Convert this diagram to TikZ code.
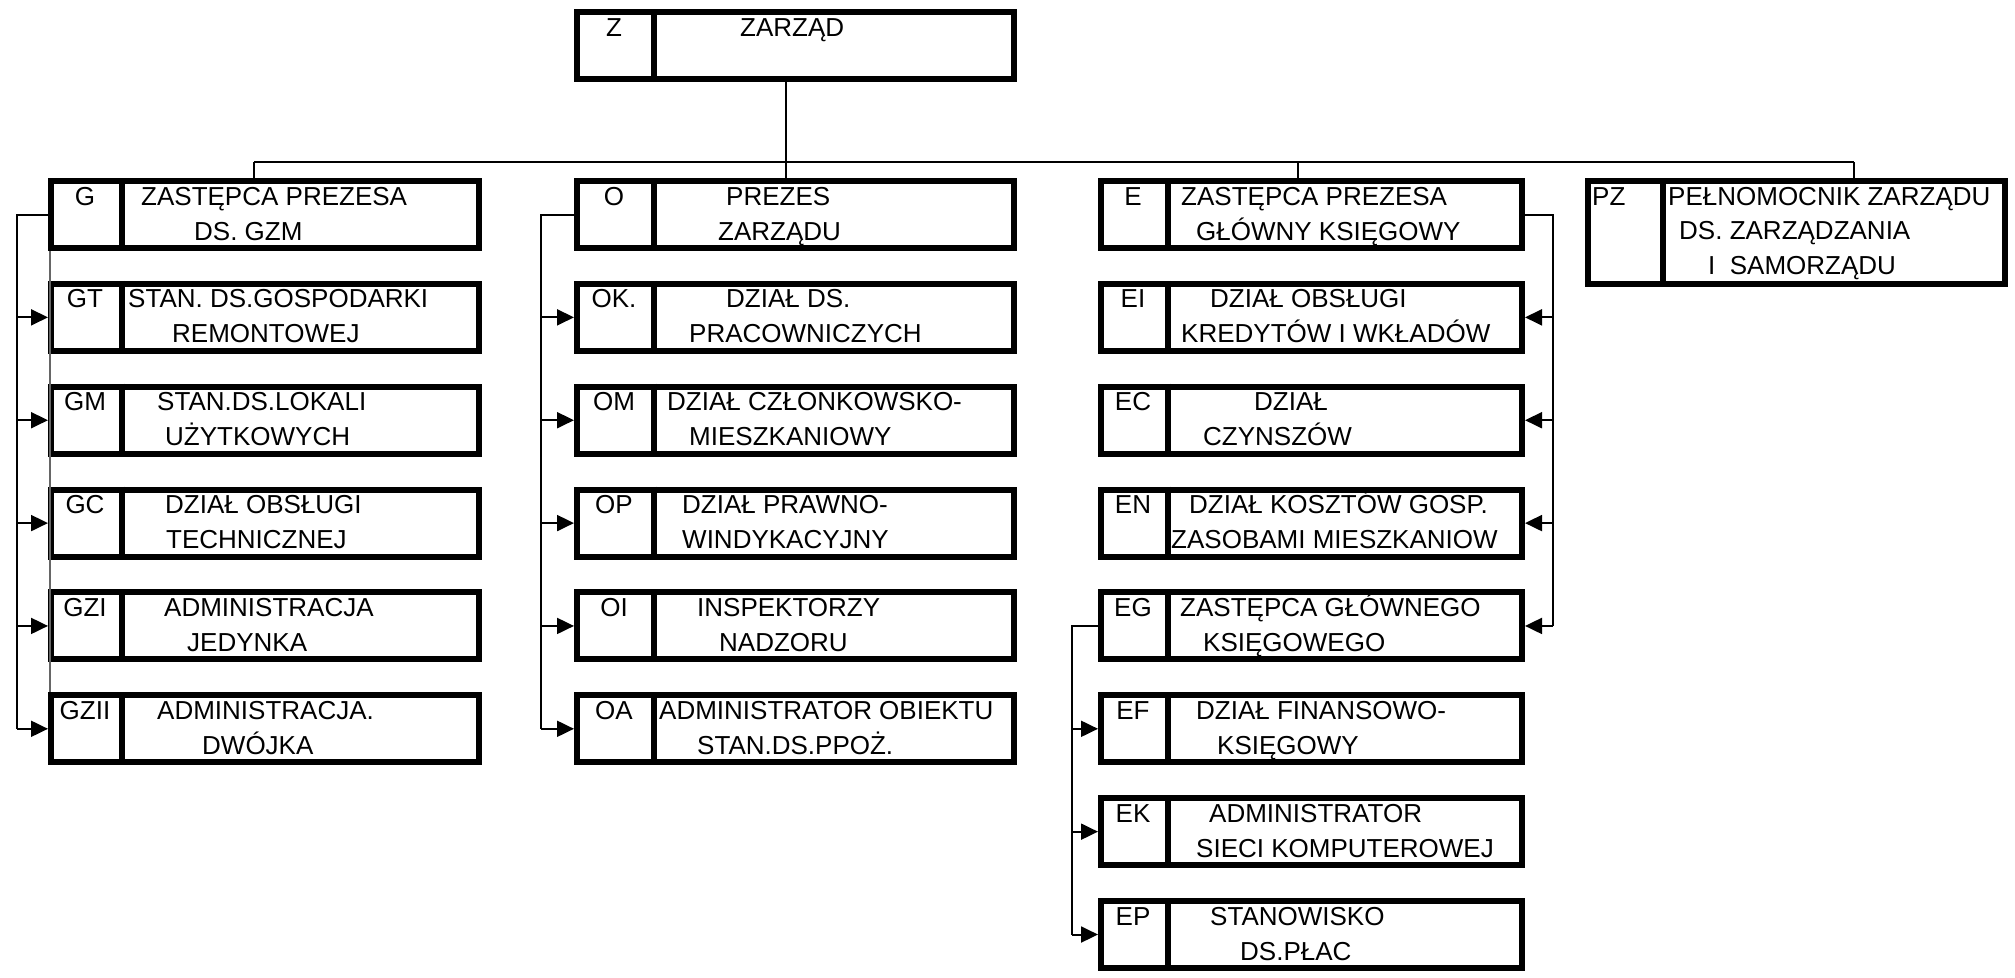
\documentclass[tikz,border=0pt]{standalone}
\usepackage{fontspec}
\setmainfont{Liberation Sans}
\usepackage{tikz}
\usetikzlibrary{shapes,arrows.meta,positioning,calc}
\tikzset{
    unitbox/.style={rectangle, draw=black, line width=6pt, minimum height=67pt, inner sep=0pt, anchor=north west},
    unitline/.style={line width=6pt, black},
    unittext/.style={font=\fontsize{26}{34}\selectfont, inner sep=0pt, anchor=base west},
    unitcode/.style={font=\fontsize{26}{34}\selectfont, inner sep=0pt, anchor=base},
    link/.style={line width=2pt, black},
    busline/.style={line width=2.5pt, black},
    feed/.style={line width=2pt, black, -{Triangle[length=17pt,width=16pt]}},
    edgeline/.style={line width=1.5pt, black!60},
}

\begin{document}
\begin{tikzpicture}[x=1pt, y=-1pt]
    \useasboundingbox (0,0) rectangle (2015,977);

    % zarzad
    \node[unitbox, minimum width=437pt] (z) at (574,9) {};
    \draw[unitline] ([xshift=80pt]z.north west) -- ([xshift=80pt]z.south west);
    \node[unitcode] (z-code) at (614,36) {Z};
    \node[unittext] (z-a) at (740,36) {ZARZĄD};

    % pion G
    \foreach \n/\c/\xa/\la/\xb/\lb [count=\i from 0] in {
        g/G/141/{ZASTĘPCA PREZESA}/194/{DS. GZM},
        gt/GT/128/{STAN. DS.GOSPODARKI}/172/{REMONTOWEJ},
        gm/GM/157/{STAN.DS.LOKALI}/165/{UŻYTKOWYCH},
        gc/GC/165/{DZIAŁ OBSŁUGI}/166/{TECHNICZNEJ},
        gzi/GZI/164/{ADMINISTRACJA}/187/{JEDYNKA},
        gzii/GZII/157/{ADMINISTRACJA.}/202/{DWÓJKA}}{
        \pgfmathsetmacro\rowtop{178+102.86*\i}
        \node[unitbox, minimum width=428pt] (\n) at (48,\rowtop) {};
        \draw[unitline] ([xshift=74pt]\n.north west) -- ([xshift=74pt]\n.south west);
        \node[unitcode] (\n-code) at (85,\rowtop+27) {\c};
        \node[unittext] (\n-a) at (\xa,\rowtop+27) {\la};
        \node[unittext] (\n-b) at (\xb,\rowtop+62) {\lb};
    }

    % pion O
    \foreach \n/\c/\xa/\la/\xb/\lb [count=\i from 0] in {
        o/O/726/{PREZES}/718/{ZARZĄDU},
        ok/OK./726/{DZIAŁ DS.}/689/{PRACOWNICZYCH},
        om/OM/667/{DZIAŁ CZŁONKOWSKO-}/689/{MIESZKANIOWY},
        op/OP/682/{DZIAŁ PRAWNO-}/682/{WINDYKACYJNY},
        oi/OI/697/{INSPEKTORZY}/719/{NADZORU},
        oa/OA/659/{ADMINISTRATOR OBIEKTU}/697/{STAN.DS.PPOŻ.}}{
        \pgfmathsetmacro\rowtop{178+102.86*\i}
        \node[unitbox, minimum width=437pt] (\n) at (574,\rowtop) {};
        \draw[unitline] ([xshift=80pt]\n.north west) -- ([xshift=80pt]\n.south west);
        \node[unitcode] (\n-code) at (614,\rowtop+27) {\c};
        \node[unittext] (\n-a) at (\xa,\rowtop+27) {\la};
        \node[unittext] (\n-b) at (\xb,\rowtop+62) {\lb};
    }

    % pion E
    \foreach \n/\c/\xa/\la/\xb/\lb [count=\i from 0] in {
        e/E/1181/{ZASTĘPCA PREZESA}/1196/{GŁÓWNY KSIĘGOWY},
        ei/EI/1210/{DZIAŁ OBSŁUGI}/1181/{KREDYTÓW I WKŁADÓW},
        ec/EC/1254/{DZIAŁ}/1203/{CZYNSZÓW},
        en/EN/1189/{DZIAŁ KOSZTÓW GOSP.}/1171/{ZASOBAMI MIESZKANIOW},
        eg/EG/1180/{ZASTĘPCA GŁÓWNEGO}/1203/{KSIĘGOWEGO},
        ef/EF/1196/{DZIAŁ FINANSOWO-}/1217/{KSIĘGOWY},
        ek/EK/1209/{ADMINISTRATOR}/1196/{SIECI KOMPUTEROWEJ},
        ep/EP/1210/{STANOWISKO}/1240/{DS.PŁAC}}{
        \pgfmathsetmacro\rowtop{178+102.86*\i}
        \node[unitbox, minimum width=421pt] (\n) at (1098,\rowtop) {};
        \draw[unitline] ([xshift=70pt]\n.north west) -- ([xshift=70pt]\n.south west);
        \node[unitcode] (\n-code) at (1133,\rowtop+27) {\c};
        \node[unittext] (\n-a) at (\xa,\rowtop+27) {\la};
        \node[unittext] (\n-b) at (\xb,\rowtop+62) {\lb};
    }

    % pelnomocnik
    \node[unitbox, minimum width=417pt, minimum height=103pt] (pz) at (1585,178) {};
    \draw[unitline] ([xshift=78pt]pz.north west) -- ([xshift=78pt]pz.south west);
    \node[unittext] (pz-code) at (1592,205) {PZ};
    \node[unittext] (pz-a) at (1668,205) {PEŁNOMOCNIK ZARZĄDU};
    \node[unittext] (pz-b) at (1679,239.5) {DS. ZARZĄDZANIA};
    \node[unittext] (pz-c) at (1708,274) {I~~SAMORZĄDU};

    % szyna
    \coordinate (gdrop) at (254,162);
    \coordinate (odrop) at (786,162);
    \coordinate (edrop) at (1298,162);
    \coordinate (pzdrop) at (1854,162);
    \draw[busline] (gdrop) -- (pzdrop);
    \draw[link] (odrop |- z.south) -- (odrop |- o.north);
    \draw[link] (gdrop) -- (gdrop |- g.north);
    \draw[link] (edrop) -- (edrop |- e.north);
    \draw[link] (pzdrop) -- (pzdrop |- pz.north);

    % G
    \coordinate (gtrunk) at (17,0);
    \draw[link] (g.west) -- (g.west -| gtrunk) -- (gzii.west -| gtrunk);
    \foreach \n in {gt,gm,gc,gzi,gzii}
        \draw[feed] (\n.west -| gtrunk) -- (\n.west);
    \draw[edgeline] ([xshift=2pt]g.south west) -- ([xshift=2pt]gzii.north west);

    % O
    \coordinate (otrunk) at (541,0);
    \draw[link] (o.west) -- (o.west -| otrunk) -- (oa.west -| otrunk);
    \foreach \n in {ok,om,op,oi,oa}
        \draw[feed] (\n.west -| otrunk) -- (\n.west);

    % E
    \coordinate (etrunk) at (1553,0);
    \draw[link] (e.east) -- (e.east -| etrunk) -- (eg.east -| etrunk);
    \foreach \n in {ei,ec,en,eg}
        \draw[feed] (\n.east -| etrunk) -- (\n.east);

    % EG
    \coordinate (egtrunk) at (1072,0);
    \draw[link] (eg.west) -- (eg.west -| egtrunk) -- (ep.west -| egtrunk);
    \foreach \n in {ef,ek,ep}
        \draw[feed] (\n.west -| egtrunk) -- (\n.west);
\end{tikzpicture}
\end{document}
